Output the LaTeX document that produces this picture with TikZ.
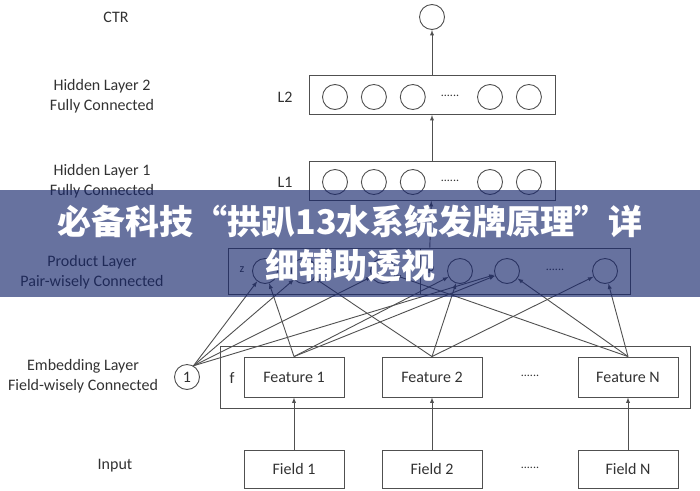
\documentclass[tikz,border=0pt]{standalone}
\usepackage{fontspec}
\setmainfont{Carlito}
\newfontfamily\cjk{Noto Sans CJK SC}
\usepackage{tikz}
\usetikzlibrary{arrows, positioning}
\definecolor{linegray}{RGB}{80,80,80}
\definecolor{textgray}{RGB}{50,50,50}
\definecolor{bannerblue}{RGB}{22,38,108}
\tikzstyle{arrow} = [->, >=latex, draw=linegray, line width=0.9pt]
\tikzstyle{line} = [draw=linegray, line width=0.9pt]
\tikzstyle{neuron} = [circle, draw=linegray, line width=0.9pt, minimum size=25pt, inner sep=0pt, text=textgray, font=\fontsize{16}{19}\selectfont]
\tikzstyle{layer} = [rectangle, draw=linegray, line width=0.9pt, inner sep=0pt]
\tikzstyle{feat} = [rectangle, draw=linegray, line width=0.9pt, minimum width=100pt, minimum height=40pt, text=textgray, font=\fontsize{16}{19}\selectfont]
\tikzstyle{lbl} = [text=textgray, align=center, font=\fontsize{16}{20}\selectfont]
\tikzstyle{small} = [text=textgray, font=\fontsize{12}{14}\selectfont]
\tikzstyle{banner} = [text=white, align=center, font=\cjk\bfseries\fontsize{34}{44}\selectfont]

\begin{document}
\begin{tikzpicture}[x=1pt, y=-1pt, node distance=13pt]
\useasboundingbox (0,0) rectangle (700,490);

\node [neuron] (ctr) at (432,17) {};
\node [lbl] (ctrl) at (116,17) {CTR};

\node [layer, minimum width=246pt, minimum height=39pt] (l2) at (432,95) {};
\node [lbl] (l2l) at (285,97) {L2};
\node [neuron] (l2a) at (335,97) {};
\node [neuron] (l2b) [right=of l2a] {};
\node [neuron] (l2c) [right=of l2b] {};
\node [small] (l2d) at (450,96) {......};
\node [neuron] (l2e) at (490,97) {};
\node [neuron] (l2f) [right=of l2e] {};
\node [lbl] (h2) at (102,96) {Hidden Layer 2\\Fully Connected};

\node [layer, minimum width=246pt, minimum height=39pt] (l1) at (432,181) {};
\node [lbl] (l1l) at (285,182) {L1};
\node [neuron] (l1a) at (335,182) {};
\node [neuron] (l1b) [right=of l1a] {};
\node [neuron] (l1c) [right=of l1b] {};
\node [small] (l1d) at (450,181) {......};
\node [neuron] (l1e) at (490,182) {};
\node [neuron] (l1f) [right=of l1e] {};
\node [lbl] (h1) at (102,181) {Hidden Layer 1\\Fully Connected};

\node [layer, minimum width=402pt, minimum height=46pt] (pl) at (429,271) {};
\coordinate (divt) at (420,248);
\coordinate (divb) at (420,294);
\node [small] (zl) at (242,270) {z};
\node [neuron] (z1) at (265,271) {};
\node [neuron] (z2) [right=of z1] {};
\node [small] (zd) at (342,270) {......};
\node [neuron] (zn) at (383,271) {};
\node [small] (pll) at (431,270) {p};
\node [neuron] (p1) at (460,271) {};
\node [neuron] (p2) at (507,271) {};
\node [small] (pd) at (555,270) {......};
\node [neuron] (pn) at (605,271) {};
\node [lbl] (prod) at (92,272) {Product Layer\\Pair-wisely Connected};

\node [layer, minimum width=470pt, minimum height=62pt] (emb) at (455,377) {};
\node [lbl] (fl) at (232,378) {f};
\node [neuron] (one) at (187,377) {1};
\node [feat] (f1) at (294,377) {Feature 1};
\node [feat] (f2) at (432,377) {Feature 2};
\node [small] (fd) at (530,376) {......};
\node [feat] (fn) at (628,377) {Feature N};
\node [lbl] (embl) at (83,376) {Embedding Layer\\Field-wisely Connected};

\node [feat, minimum height=38pt] (d1) at (294,469) {Field 1};
\node [feat, minimum height=38pt] (d2) at (432,469) {Field 2};
\node [small] (dd) at (530,468) {......};
\node [feat, minimum height=38pt] (dn) at (628,469) {Field N};
\node [lbl] (inp) at (115,466) {Input};

\draw [arrow] (l2) to (ctr);
\draw [arrow] (l1) to (l2);
\draw [arrow] (pl) to (l1);
\draw [line] (divt) to (divb);

\draw [arrow] (one.60) to (z1);
\draw [arrow] (one.60) to (z2);
\draw [arrow] (one.60) to (zn);
\draw [arrow] (one.60) to (p2);

\draw [arrow] (f1.north) to (z1);
\draw [arrow] (f1.north) to (p1);
\draw [arrow] (f1.north) to (p2);

\draw [arrow] (f2.north) to (z2);
\draw [arrow] (f2.north) to (p1);
\draw [arrow] (f2.north) to (pn);

\draw [arrow] (fn.north) to (zn);
\draw [arrow] (fn.north) to (p2);
\draw [arrow] (fn.north) to (pn);

\draw [arrow] (d1) to (f1);
\draw [arrow] (d2) to (f2);
\draw [arrow] (dn) to (fn);

\fill [bannerblue, fill opacity=0.65] (0,190) rectangle (700,297);
\node [banner] (title) at (350,244) {必备科技“拱趴13水系统发牌原理”详\\细辅助透视};
\end{tikzpicture}
\end{document}
